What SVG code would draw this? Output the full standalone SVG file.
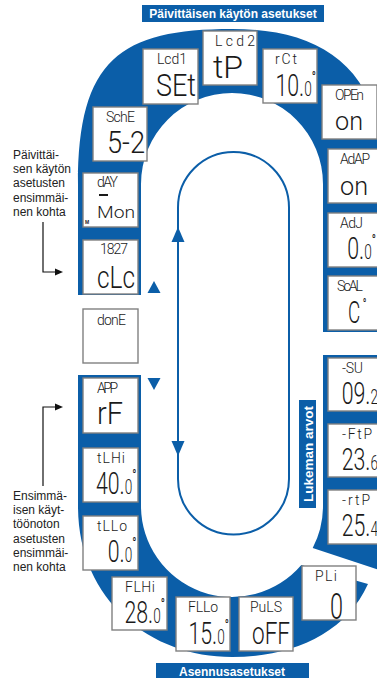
<svg xmlns="http://www.w3.org/2000/svg" width="377" height="678" viewBox="0 0 377 678">
<style>
.band{fill:#0b5ea8}
.box{fill:#fff;stroke:#808080;stroke-width:1.4}
.lb{font-family:Roboto,"DejaVu Sans",sans-serif;font-weight:300;font-size:14px;fill:#1a1a1a}
.v{font-family:Roboto,"DejaVu Sans",sans-serif;font-weight:300;font-size:30.5px;fill:#1a1a1a}
.vn{font-family:Roboto,"DejaVu Sans",sans-serif;font-weight:300;font-size:30.5px;fill:#1a1a1a;text-anchor:end}
.sm{font-size:19.5px}
.dg{font-size:16px;font-weight:400}
.tx{font-family:"Liberation Sans",Arial,sans-serif;font-size:12px;fill:#222}
.tt{font-family:"Liberation Sans",Arial,sans-serif;font-weight:bold;font-size:12px;fill:#fff;text-anchor:middle}
.loop{fill:none;stroke:#0b5ea8;stroke-width:2}
.ah{fill:#0b5ea8}
.ln{fill:none;stroke:#111;stroke-width:1.2}
.hd{fill:#111}
</style>
<g id="bands">
<path class="band" d="M78,295 V184 C78,60 120,29 232,29 C325,29 385,70 385,184 V332 H323 V184 A91,91 0 0 0 141,184 V295 Z"/>
<path class="band" d="M323,355 H385 V572 L312.7,548 A91,91 0 0 0 323,506 Z"/>
<path class="band" d="M78,375 H141 V506 A91,91 0 0 0 301.3,565 L368,584 C345,635 290,657 232,657 C150,657 78,600 78,506 Z"/>
</g>
<g id="connectors">
<path class="loop" d="M178,207.5 A55.5,55.5 0 0 1 289,207.5 V479 A55.5,55.5 0 0 1 178,479 Z"/>
<polygon class="ah" points="178,227 171.5,242 184.5,242"/>
<polygon class="ah" points="178,456 171.5,441 184.5,441"/>
<polygon class="ah" points="154,281 147.5,293 160.5,293"/>
<polygon class="ah" points="154,390 147.5,378 160.5,378"/>
<path class="ln" d="M43,222 V272 H56"/>
<polygon class="hd" points="63,272 55,268.5 55,275.5"/>
<path class="ln" d="M43,486 V407 H56"/>
<polygon class="hd" points="63,407 55,403.5 55,410.5"/>
</g>
<g id="title-top"><rect class="band" x="142" y="5" width="182" height="17"/><text class="tt" x="233" y="17.5">Päivittäisen käytön asetukset</text></g>
<g id="title-bottom"><rect class="band" x="156" y="663" width="153" height="16"/><text class="tt" x="232" y="676">Asennusasetukset</text></g>
<g id="title-right"><rect class="band" x="299" y="400" width="17" height="108"/><text class="tt" transform="translate(312.5,454) rotate(-90)" style="font-size:13.5px">Lukeman arvot</text></g>
<g id="note-daily"><text class="tx"><tspan x="13" y="158.5">Päivittäi-</tspan><tspan x="13" y="173">sen käytön</tspan><tspan x="13" y="187.3">asetusten</tspan><tspan x="13" y="201.6">ensimmäi-</tspan><tspan x="13" y="216">nen kohta</tspan></text></g>
<g id="note-install"><text class="tx"><tspan x="13" y="500">Ensimmä-</tspan><tspan x="13" y="514.2">isen käyt-</tspan><tspan x="13" y="528.4">töönoton</tspan><tspan x="13" y="542.6">asetusten</tspan><tspan x="13" y="556.8">ensimmäi-</tspan><tspan x="13" y="571">nen kohta</tspan></text></g>

<g id="n-lcd1" transform="translate(143,49)"><rect class="box" width="55" height="55"/><text class="lb" x="14" y="14.5" textLength="30">Lcd1</text><text class="v" x="13" y="46.5" textLength="40" lengthAdjust="spacingAndGlyphs">SEt</text></g>
<g id="n-lcd2" transform="translate(203,31)"><rect class="box" width="54" height="54"/><text class="lb" x="12" y="14.5" textLength="40">Lcd2</text><text class="v" x="10" y="46.5" textLength="30" lengthAdjust="spacingAndGlyphs">tP</text></g>
<g id="n-rct" transform="translate(263,49)"><rect class="box" width="54" height="54"/><text class="lb" x="12" y="14.5" textLength="22">rCt</text><text class="vn" transform="translate(53,46.5) scale(0.7,1)">10.<tspan class="sm">0</tspan><tspan class="dg" dy="-13">°</tspan></text></g>
<g id="n-open" transform="translate(322,85)"><rect class="box" width="55" height="54"/><text class="lb" x="13" y="14.5" textLength="29">OPEn</text><text class="v" x="13" y="45" textLength="28" lengthAdjust="spacingAndGlyphs" style="font-size:25px">on</text></g>
<g id="n-adap" transform="translate(328,149)"><rect class="box" width="55" height="54"/><text class="lb" x="12" y="14.5" textLength="30">AdAP</text><text class="v" x="12" y="46" textLength="28" lengthAdjust="spacingAndGlyphs" style="font-size:25px">on</text></g>
<g id="n-adj" transform="translate(328,213)"><rect class="box" width="55" height="54"/><text class="lb" x="12" y="14.5" textLength="23">AdJ</text><text class="vn" transform="translate(48,46) scale(0.7,1)">0.<tspan class="sm">0</tspan><tspan class="dg" dy="-13">°</tspan></text></g>
<g id="n-scal" transform="translate(328,276)"><rect class="box" width="55" height="54"/><text class="lb" x="9" y="14.5" textLength="26">ScAL</text><text class="v" transform="translate(20,46.5) scale(0.62,1)">C<tspan class="dg" dx="4" dy="-13">°</tspan></text></g>
<g id="n-su" transform="translate(328,358)"><rect class="box" width="55" height="53"/><text class="lb" x="14" y="14.5" textLength="21">-SU</text><text class="vn" transform="translate(50,45.5) scale(0.7,1)">09.<tspan class="sm">2</tspan></text></g>
<g id="n-ftp" transform="translate(328,424)"><rect class="box" width="55" height="53"/><text class="lb" x="14" y="14.5" textLength="30">-FtP</text><text class="vn" transform="translate(50,45.5) scale(0.7,1)">23.<tspan class="sm">6</tspan></text></g>
<g id="n-rtp" transform="translate(328,490)"><rect class="box" width="55" height="54"/><text class="lb" x="14" y="14.5" textLength="28">-rtP</text><text class="vn" transform="translate(50,45.5) scale(0.7,1)">25.<tspan class="sm">4</tspan></text></g>
<g id="n-pli" transform="translate(302,566)"><rect class="box" width="54" height="54"/><text class="lb" x="13" y="14.5" textLength="22">PLi</text><text class="v" x="28" y="52.5" textLength="13" lengthAdjust="spacingAndGlyphs" style="font-size:36px">0</text></g>
<g id="n-puls" transform="translate(239,597)"><rect class="box" width="54" height="54"/><text class="lb" x="11" y="14.5" textLength="32">PuLS</text><text class="v" x="13" y="46.5" textLength="38" lengthAdjust="spacingAndGlyphs">oFF</text></g>
<g id="n-fllo" transform="translate(176,597)"><rect class="box" width="54" height="54"/><text class="lb" x="12" y="14.5" textLength="30">FLLo</text><text class="vn" transform="translate(53,46.5) scale(0.7,1)">15.<tspan class="sm">0</tspan><tspan class="dg" dy="-13">°</tspan></text></g>
<g id="n-flhi" transform="translate(112,577)"><rect class="box" width="55" height="53"/><text class="lb" x="13" y="14.5" textLength="30">FLHi</text><text class="vn" transform="translate(53,45.5) scale(0.7,1)">28.<tspan class="sm">0</tspan><tspan class="dg" dy="-13">°</tspan></text></g>
<g id="n-tllo" transform="translate(83,516)"><rect class="box" width="55" height="54"/><text class="lb" x="14" y="14.5" textLength="30">tLLo</text><text class="vn" transform="translate(53.5,45.5) scale(0.7,1)">0.<tspan class="sm">0</tspan><tspan class="dg" dy="-13">°</tspan></text></g>
<g id="n-tlhi" transform="translate(83,448)"><rect class="box" width="55" height="54"/><text class="lb" x="14" y="14.5" textLength="28">tLHi</text><text class="vn" transform="translate(53.5,46) scale(0.7,1)">40.<tspan class="sm">0</tspan><tspan class="dg" dy="-13">°</tspan></text></g>
<g id="n-app" transform="translate(83,378)"><rect class="box" width="55" height="55"/><text class="lb" x="14" y="14.5" textLength="21">APP</text><text class="v" x="14" y="46" textLength="26" lengthAdjust="spacingAndGlyphs">rF</text></g>
<g id="n-done" transform="translate(83,309)"><rect class="box" width="55" height="54"/><text class="lb" x="14" y="16" textLength="29">donE</text></g>
<g id="n-clk" transform="translate(83,240)"><rect class="box" width="55" height="54"/><text class="lb" x="17" y="13.5" textLength="28">1827</text><text class="v" x="14" y="47.5" textLength="38" lengthAdjust="spacingAndGlyphs">cLc</text></g>
<g id="n-day" transform="translate(83,173)"><rect class="box" width="55" height="54"/><text class="lb" x="14" y="14" textLength="21">dAY</text><rect x="16" y="21" width="9" height="2" fill="#1a1a1a"/><text class="v" x="14" y="44.5" textLength="38" lengthAdjust="spacingAndGlyphs" style="font-size:16px">Mon</text><text x="2" y="51" style="font-family:'Liberation Sans',sans-serif;font-size:5px;font-weight:bold" fill="#1a1a1a">M</text></g>
<g id="n-sche" transform="translate(93,107)"><rect class="box" width="54" height="54"/><text class="lb" x="13" y="14.5" textLength="29">SchE</text><text class="v" x="14" y="46" textLength="38" lengthAdjust="spacingAndGlyphs">5-2</text></g>
</svg>
